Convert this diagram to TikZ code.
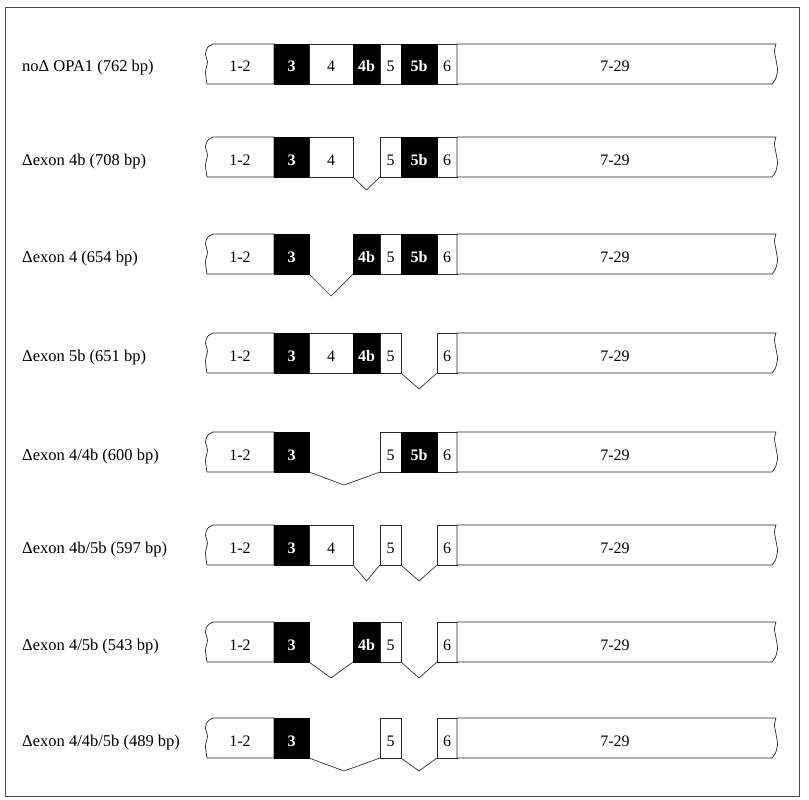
\documentclass[tikz,border=0pt]{standalone}
\usepackage{fontspec}
\setmainfont{Liberation Serif}
\tikzset{
  outline/.style={draw=black!85, line width=0.7pt, fill=white},
  blk/.style={draw=black, fill=black, line width=0.7pt},
  wlab/.style={font=\fontsize{16}{16}\selectfont, inner sep=0, anchor=base},
  blab/.style={font=\fontsize{16}{16}\selectfont\bfseries, text=white, inner sep=0, anchor=base},
  rowlab/.style={font=\fontsize{16.5}{16.5}\selectfont, anchor=base west, inner sep=0},
  splice/.style={draw=black!80, line width=0.7pt},
  frame/.style={draw=black!70, line width=0.8pt},
}
% white exon: name, x1, x2, label
\newcommand\wexon[4]{%
  \draw[outline] (#2,-20) rectangle (#3,20);
  \node[wlab] (#1) at ({(#2+#3)/2},8) {#4};}
% black exon
\newcommand\bexon[4]{%
  \draw[blk] (#2,-20) rectangle (#3,20);
  \node[blab] (#1) at ({(#2+#3)/2},8) {#4};}
% common parts of a row: prefix, label
\newcommand\rowbase[2]{%
  \draw[outline] (274,-20) -- plot[smooth] coordinates
     {(213,-20) (207.5,-16.5) (205.5,-10) (207.5,-2) (205.5,8) (207,20)}
     -- (274,20) -- cycle;
  \node[wlab] (#1a) at (240,8) {1-2};
  \bexon{#1b}{274}{309}{3}
  \wexon{#1f}{437}{457}{6}
  \draw[outline] (457,-20) -- plot[smooth] coordinates
     {(776,-20) (774.5,-13) (776,-4) (777.5,6) (775.5,15) (772,20)}
     -- (457,20) -- cycle;
  \node[wlab] (#1g) at (615,8) {7-29};
  \node[rowlab] (#1l) at (22,8) {#2};}
\begin{document}
\begin{tikzpicture}[x=1pt,y=-1pt]
\useasboundingbox (0,0) rectangle (809,800);
\draw[frame] (5,7) rectangle (799,796);

% Row 1
\begin{scope}[shift={(0,64)}]
  \rowbase{r1}{noΔ OPA1 (762 bp)}
  \wexon{r1c}{309}{353}{4}
  \bexon{r1d}{353}{380}{4b}
  \wexon{r1e}{380}{401}{5}
  \bexon{r1x}{401}{437}{5b}
\end{scope}

% Row 2
\begin{scope}[shift={(0,157)}]
  \rowbase{r2}{Δexon 4b (708 bp)}
  \wexon{r2c}{309}{353}{4}
  \wexon{r2e}{380}{401}{5}
  \bexon{r2x}{401}{437}{5b}
  \coordinate (r2v1) at (366.5,33);
  \draw[splice] (353,20) -- (r2v1) -- (380,20);
\end{scope}

% Row 3
\begin{scope}[shift={(0,254)}]
  \rowbase{r3}{Δexon 4 (654 bp)}
  \bexon{r3d}{353}{380}{4b}
  \wexon{r3e}{380}{401}{5}
  \bexon{r3x}{401}{437}{5b}
  \coordinate (r3v1) at (331,42);
  \draw[splice] (309,20) -- (r3v1) -- (353,20);
\end{scope}

% Row 4
\begin{scope}[shift={(0,353)}]
  \rowbase{r4}{Δexon 5b (651 bp)}
  \wexon{r4c}{309}{353}{4}
  \bexon{r4d}{353}{380}{4b}
  \wexon{r4e}{380}{401}{5}
  \coordinate (r4v1) at (419,36);
  \draw[splice] (401,20) -- (r4v1) -- (437,20);
\end{scope}

% Row 5
\begin{scope}[shift={(0,452)}]
  \rowbase{r5}{Δexon 4/4b (600 bp)}
  \wexon{r5e}{380}{401}{5}
  \bexon{r5x}{401}{437}{5b}
  \coordinate (r5v1) at (344,33);
  \draw[splice] (309,20) -- (r5v1) -- (380,20);
\end{scope}

% Row 6
\begin{scope}[shift={(0,545)}]
  \rowbase{r6}{Δexon 4b/5b (597 bp)}
  \wexon{r6c}{309}{353}{4}
  \wexon{r6e}{380}{401}{5}
  \coordinate (r6v1) at (366.5,36);
  \coordinate (r6v2) at (419,36);
  \draw[splice] (353,20) -- (r6v1) -- (380,20);
  \draw[splice] (401,20) -- (r6v2) -- (437,20);
\end{scope}

% Row 7
\begin{scope}[shift={(0,642)}]
  \rowbase{r7}{Δexon 4/5b (543 bp)}
  \bexon{r7d}{353}{380}{4b}
  \wexon{r7e}{380}{401}{5}
  \coordinate (r7v1) at (331,36);
  \coordinate (r7v2) at (419,36);
  \draw[splice] (309,20) -- (r7v1) -- (353,20);
  \draw[splice] (401,20) -- (r7v2) -- (437,20);
\end{scope}

% Row 8
\begin{scope}[shift={(0,738)}]
  \rowbase{r8}{Δexon 4/4b/5b (489 bp)}
  \wexon{r8e}{380}{401}{5}
  \coordinate (r8v1) at (344,33);
  \coordinate (r8v2) at (419,33);
  \draw[splice] (309,20) -- (r8v1) -- (380,20);
  \draw[splice] (401,20) -- (r8v2) -- (437,20);
\end{scope}
\end{tikzpicture}
\end{document}
